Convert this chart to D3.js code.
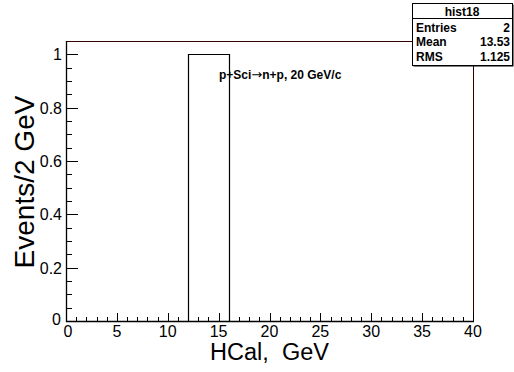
<!DOCTYPE html>
<html><head><meta charset="utf-8">
<script src="https://cdn.jsdelivr.net/npm/d3@7"></script>
<style>body{margin:0;background:#fff}svg{display:block}text{font-family:"Liberation Sans",Arial,sans-serif;white-space:pre}</style>
</head><body>
<script>
const binEdges = [0,2,4,6,8,10,12,14,16,18,20,22,24,26,28,30,32,34,36,38,40];
const binCounts = [0,0,0,0,0,0,1,1,0,0,0,0,0,0,0,0,0,0,0,0];
const xTicks = [0,5,10,15,20,25,30,35,40];
const yTicks = [0,0.2,0.4,0.6,0.8,1];
const yTickLabels = ["0","0.2","0.4","0.6","0.8","1"];
const statsTitle = "hist18";
const statsNames = ["Entries","Mean","RMS"];
const statsValues = ["2","13.53","1.125"];
const annotationA = "p+Sci";
const annotationArrow = "\u2192";
const annotationB = "n+p, 20 GeV/c";

const W=514,H=372;
const svg=d3.select("body").append("svg").attr("width",W).attr("height",H);
const L=66,R=473,T=41,B=321;
const x=d3.scaleLinear().domain([0,40]).range([L,R]);
const y=d3.scaleLinear().domain([0,1.05]).range([B,T]);

// frame
svg.append("rect").attr("x",L+0.5).attr("y",T+0.5).attr("width",R-L).attr("height",B-T)
  .attr("fill","none").attr("stroke","#300").attr("stroke-width",1);

// histogram outline
let pts=[[x(binEdges[0]),y(0)]];
binCounts.forEach((c,i)=>{pts.push([x(binEdges[i]),y(c)]);pts.push([x(binEdges[i+1]),y(c)]);});
pts.push([x(binEdges[binEdges.length-1]),y(0)]);
pts=pts.map(p=>[Math.round(p[0])+0.5,Math.round(p[1])+0.5]);
svg.append("path").attr("d",d3.line()(pts)).attr("fill","none").attr("stroke","#000").attr("stroke-width",1.2);

// x axis
const gx=svg.append("g");
gx.append("line").attr("x1",L).attr("x2",R+1).attr("y1",B+0.5).attr("y2",B+0.5).attr("stroke","#000").attr("stroke-width",1.3);
d3.range(0,41,1).forEach(v=>{
  const major=v%5===0;
  gx.append("line").attr("x1",Math.round(x(v))+0.5).attr("x2",Math.round(x(v))+0.5).attr("y1",B).attr("y2",B-(major?8:4)).attr("stroke","#000");
});
xTicks.forEach(v=>{
  gx.append("text").attr("x",x(v)+(v===0?2:0)).attr("y",B+16).attr("text-anchor","middle").attr("font-size",16).text(v);
});
// y axis
const gy=svg.append("g");
gy.append("line").attr("x1",L+0.5).attr("x2",L+0.5).attr("y1",T).attr("y2",B+1).attr("stroke","#000").attr("stroke-width",1.3);
d3.range(0,21,1).forEach(i=>{
  const v=i*0.05;const major=i%4===0;
  gy.append("line").attr("x1",L).attr("x2",L+(major?12:6)).attr("y1",Math.round(y(v))+0.5).attr("y2",Math.round(y(v))+0.5).attr("stroke","#000");
});
yTicks.forEach((v,i)=>{
  gy.append("text").attr("x",L-4+(v===0?-1:0)).attr("y",y(v)+6+(v===0?-2:0)).attr("text-anchor","end").attr("font-size",16).text(yTickLabels[i]);
});
// axis titles
svg.append("text").attr("x",(L+R)/2).attr("y",360).attr("text-anchor","middle").attr("font-size",23.5).text("HCal,  GeV");
svg.append("text").attr("transform","translate(34,182) rotate(-90)").attr("text-anchor","middle").attr("font-size",28).text("Events/2 GeV");

// annotation
const ann=svg.append("text").attr("x",219).attr("y",79).attr("font-size",12).attr("font-weight","bold");
ann.append("tspan").text(annotationA);
ann.append("tspan").attr("font-family","DejaVu Sans").attr("font-weight","normal").attr("font-size",13).text(annotationArrow);
ann.append("tspan").text(annotationB);

// stats box
const sx=412,sy=3,sw=100,sh=62;
svg.append("rect").attr("x",sx+1.5).attr("y",sy+1.5).attr("width",sw).attr("height",sh).attr("fill","#000");
svg.append("rect").attr("x",sx+0.5).attr("y",sy+0.5).attr("width",sw).attr("height",sh).attr("fill","#fff").attr("stroke","#000");
svg.append("line").attr("x1",sx).attr("x2",sx+sw).attr("y1",sy+15.5).attr("y2",sy+15.5).attr("stroke","#000");
svg.append("text").attr("x",sx+sw/2).attr("y",sy+13).attr("text-anchor","middle").attr("font-size",12).attr("font-weight","bold").text(statsTitle);
statsNames.forEach((n,i)=>{
  const yy=sy+29+i*14.3;
  svg.append("text").attr("x",sx+4).attr("y",yy).attr("font-size",12).attr("font-weight","bold").text(n);
  svg.append("text").attr("x",sx+sw-2).attr("y",yy).attr("text-anchor","end").attr("font-size",12).attr("font-weight","bold").text(statsValues[i]);
});
</script>
</body></html>
